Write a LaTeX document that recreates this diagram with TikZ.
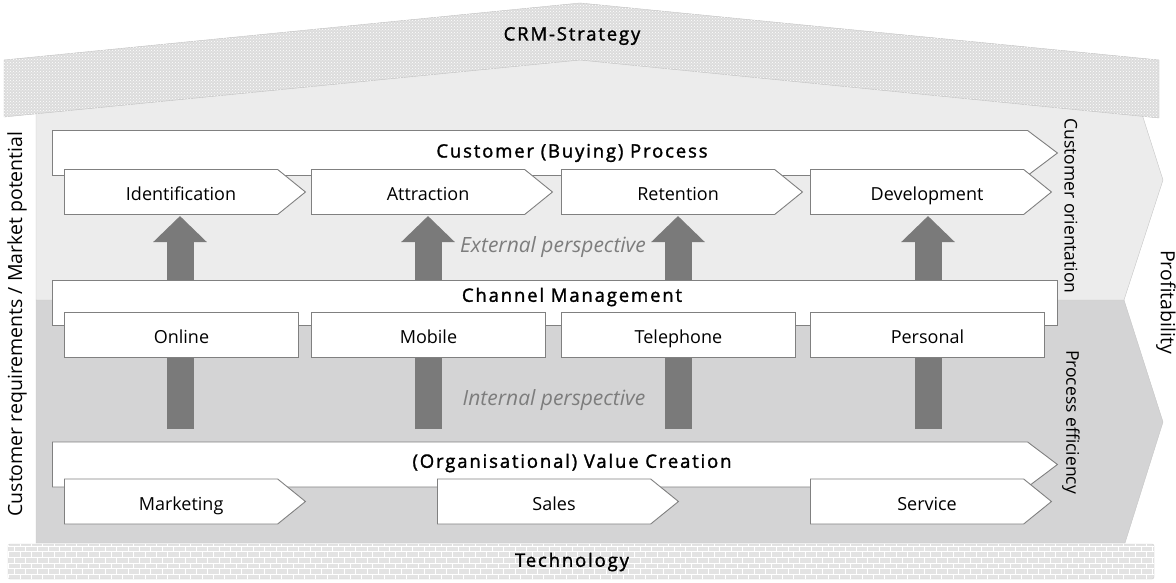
\documentclass[tikz,border=0pt]{standalone}
\usepackage{fontspec}
\setmainfont{Open Sans}
\newfontfamily\headfont[FakeBold=1.5,LetterSpace=10]{Open Sans}
\usetikzlibrary{shapes.symbols,arrows.meta,patterns}

\definecolor{lightbody}{RGB}{236,236,236}
\definecolor{darkbody}{RGB}{212,212,213}
\definecolor{roofgrey}{RGB}{220,220,220}
\definecolor{edgegrey}{RGB}{128,128,128}
\definecolor{arrowgrey}{RGB}{122,122,122}
\definecolor{perspgrey}{RGB}{125,125,125}

\begin{document}
\begin{tikzpicture}[x=1pt,y=-1pt,
    stepbox/.style={draw=edgegrey,fill=white,line width=0.9pt,minimum width=234pt,minimum height=45pt,inner sep=0pt,
        text height=17pt,text depth=0pt,font=\fontsize{18}{20}\selectfont},
    stepsignal/.style={stepbox,signal,signal to=east,signal pointer angle=78,minimum width=241pt,
        execute at begin node=\hspace*{20pt}},
    bigsignal/.style={stepbox,signal,signal to=east,signal pointer angle=74,minimum width=1005pt},
    bigbox/.style={stepbox,minimum width=1005pt},
    heading/.style={font=\headfont\fontsize{18.5}{20}\selectfont},
    sidetext/.style={font=\fontsize{19.5}{22}\selectfont},
    perspective/.style={text=perspgrey,font=\itshape\fontsize{21}{24}\selectfont},
    liftarrow/.style={line width=27pt,draw=arrowgrey,-{Triangle[length=26pt,width=52pt]}}]

    \useasboundingbox (0,0) rectangle (1176,583);

    % house body
    \draw[draw=gray!45,fill=darkbody] (36,300) -- (1124,300) -- (1163,422) -- (1125,543) -- (36,543) -- cycle;
    \draw[draw=gray!45,fill=lightbody] (36,110) -- (580,56) -- (1141,111) -- (1163,180) -- (1124,300) -- (36,300) -- cycle;

    % roof and foundation
    \draw[draw=gray!50,fill=roofgrey,postaction={pattern=crosshatch dots,pattern color=white}]
        (4,60) -- (580,3) -- (1159,60) -- (1159,118) -- (580,60) -- (4,117) -- cycle;
    \node[heading] (strategy) at (572,36) {CRM-Strategy};
    \draw[draw=gray!40,fill=gray!22,rounded corners=2pt,postaction={pattern=bricks,pattern color=white}]
        (8,544) rectangle (1154,579);
    \node[heading] (technology) at (572,562) {Technology};

    % arrows between the layers
    \foreach \x [count=\i] in {180,428,678,928} {
        \coordinate (foot\i) at (\x,429);
        \coordinate (head\i) at (\x,216);
        \draw[liftarrow] (foot\i) -- (head\i);
    }

    % customer process
    \node[bigsignal,anchor=west] (process) at (52,153) {};
    \node[heading] (processtitle) at (572,153) {Customer (Buying) Process};
    \foreach \name/\x/\txt in {identification/64/Identification,attraction/311/Attraction,retention/561/Retention,development/810/Development}
        \node[stepsignal,anchor=west] (\name) at (\x,192) {\txt};

    % channels
    \node[bigbox,anchor=west] (channel) at (52,302.5) {};
    \node[heading] (channeltitle) at (572,297) {Channel Management};
    \foreach \name/\x/\txt in {online/64/Online,mobile/311/Mobile,telephone/561/Telephone,personal/810/Personal}
        \node[stepbox,anchor=west] (\name) at (\x,334.5) {\txt};

    % value creation
    \node[bigsignal,anchor=west] (value) at (52,464.5) {};
    \node[heading] (valuetitle) at (572,463) {(Organisational) Value Creation};
    \foreach \name/\x/\txt in {marketing/64/Marketing,sales/437/Sales,service/810/Service}
        \node[stepsignal,anchor=west] (\name) at (\x,501.5) {\txt};

    \node[perspective] (external) at (553,247) {External perspective};
    \node[perspective] (internal) at (554,400) {Internal perspective};

    % side labels
    \node[sidetext,rotate=90] (requirements) at (17,324) {Customer requirements / Market potential};
    \node[sidetext,rotate=-90] (profitability) at (1166,302) {Profitability};
    \node[font=\fontsize{17.5}{20}\selectfont,rotate=-90] (orientation) at (1071,206) {Customer orientation};
    \node[font=\fontsize{17.5}{20}\selectfont,rotate=-90] (efficiency) at (1071,422) {Process efficiency};
\end{tikzpicture}
\end{document}
